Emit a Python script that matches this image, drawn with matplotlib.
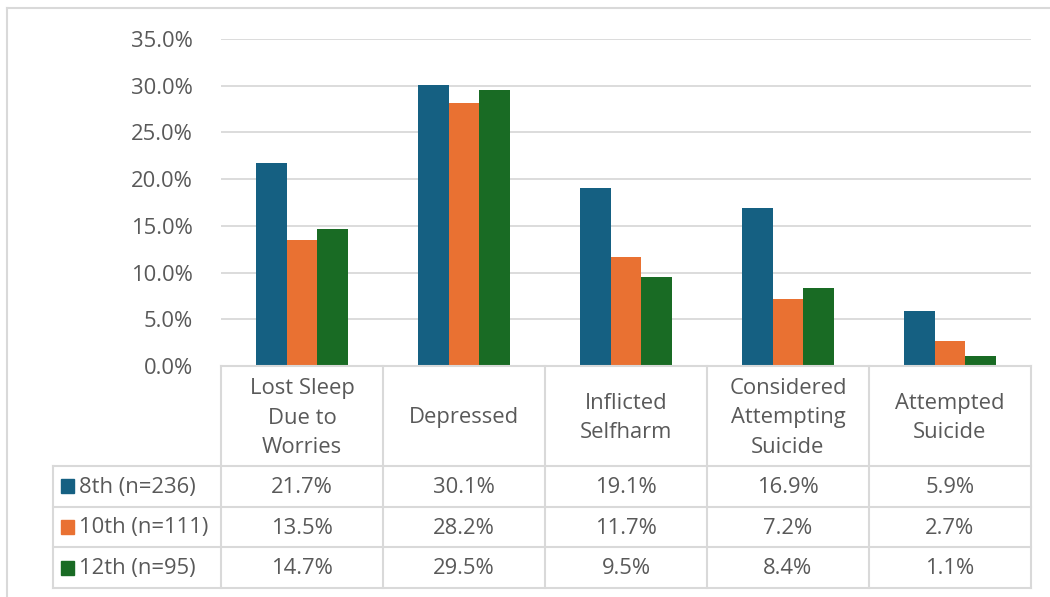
import numpy as np
import matplotlib.pyplot as plt
from matplotlib.lines import Line2D
from matplotlib.patches import Rectangle

# datos
categories = ["Lost Sleep\nDue to\nWorries", "Depressed", "Inflicted\nSelfharm",
              "Considered\nAttempting\nSuicide", "Attempted\nSuicide"]
series = ["8th (n=236)", "10th (n=111)", "12th (n=95)"]
vals_8th = [21.7, 30.1, 19.1, 16.9, 5.9]
vals_10th = [13.5, 28.2, 11.7, 7.2, 2.7]
vals_12th = [14.7, 29.5, 9.5, 8.4, 1.1]
yticks = [0, 5, 10, 15, 20, 25, 30, 35]

colors = ["#156082", "#E97132", "#196B24"]
txt = "#595959"
grid = "#D9D9D9"
fs = 15.8

W, H = 1050, 597
plt.rcParams['font.family'] = ['Open Sans', 'DejaVu Sans']
fig = plt.figure(figsize=(W / 100, H / 100), dpi=100)

def fx(x):
    return x / W

def fy(y):
    return (H - y) / H

# zona del gráfico (pixeles)
x0, x1 = 221, 1031
ytop, ybase = 39, 366
tab_left, tab_bot = 53, 588
head_bot = 466

ax = fig.add_axes([fx(x0), fy(ybase), fx(x1) - fx(x0), fy(ytop) - fy(ybase)])
n = len(categories)
x = np.arange(n)
bw = 0.19
for i, (vals, c) in enumerate(zip([vals_8th, vals_10th, vals_12th], colors)):
    ax.bar(x + (i - 1) * bw, vals, width=bw, color=c, zorder=3)
ax.set_xlim(-0.5, n - 0.5)
ax.set_ylim(0, 35)
ax.set_yticks(yticks)
ax.set_yticklabels([f"{v:.1f}%" for v in yticks])
ax.yaxis.grid(True, color=grid, linewidth=1.3)
ax.set_xticks([])
ax.tick_params(axis='y', length=0, labelsize=fs, labelcolor=txt, pad=20)
for s in ax.spines.values():
    s.set_visible(False)

# marco exterior
fig.add_artist(Line2D([fx(7), fx(W + 5)], [fy(8), fy(8)], color=grid, lw=1.5))
fig.add_artist(Line2D([fx(7), fx(7)], [fy(8), fy(H + 5)], color=grid, lw=1.5))

# tabla de datos
colw = (x1 - x0) / n
row_h = (tab_bot - head_bot) / len(series)
line_kw = dict(color=grid, lw=1.5)
# líneas horizontales
fig.add_artist(Line2D([fx(x0), fx(x1)], [fy(ybase), fy(ybase)], **line_kw))
for r in range(len(series) + 1):
    yy = head_bot + r * row_h
    fig.add_artist(Line2D([fx(tab_left), fx(x1)], [fy(yy), fy(yy)], **line_kw))
# líneas verticales
fig.add_artist(Line2D([fx(tab_left), fx(tab_left)], [fy(head_bot), fy(tab_bot)], **line_kw))
for c in range(n + 1):
    xx = x0 + c * colw
    fig.add_artist(Line2D([fx(xx), fx(xx)], [fy(ybase), fy(tab_bot)], **line_kw))

# encabezados
for c, cat in enumerate(categories):
    fig.text(fx(x0 + (c + 0.5) * colw), fy((ybase + head_bot) / 2 + 2), cat,
             ha='center', va='center', fontsize=fs, color=txt, linespacing=1.52)

# filas
for r, (name, vals, col) in enumerate(zip(series, [vals_8th, vals_10th, vals_12th], colors)):
    yc = head_bot + (r + 0.5) * row_h
    fig.add_artist(Rectangle((fx(61), fy(yc + 7)), fx(13), 14 / H,
                             transform=fig.transFigure, color=col))
    fig.text(fx(79), fy(yc + 1), name, ha='left', va='center', fontsize=fs, color=txt)
    for c, v in enumerate(vals):
        fig.text(fx(x0 + (c + 0.5) * colw), fy(yc + 1), f"{v:.1f}%",
                 ha='center', va='center', fontsize=fs, color=txt)

fig.savefig("out.png", dpi=100)
